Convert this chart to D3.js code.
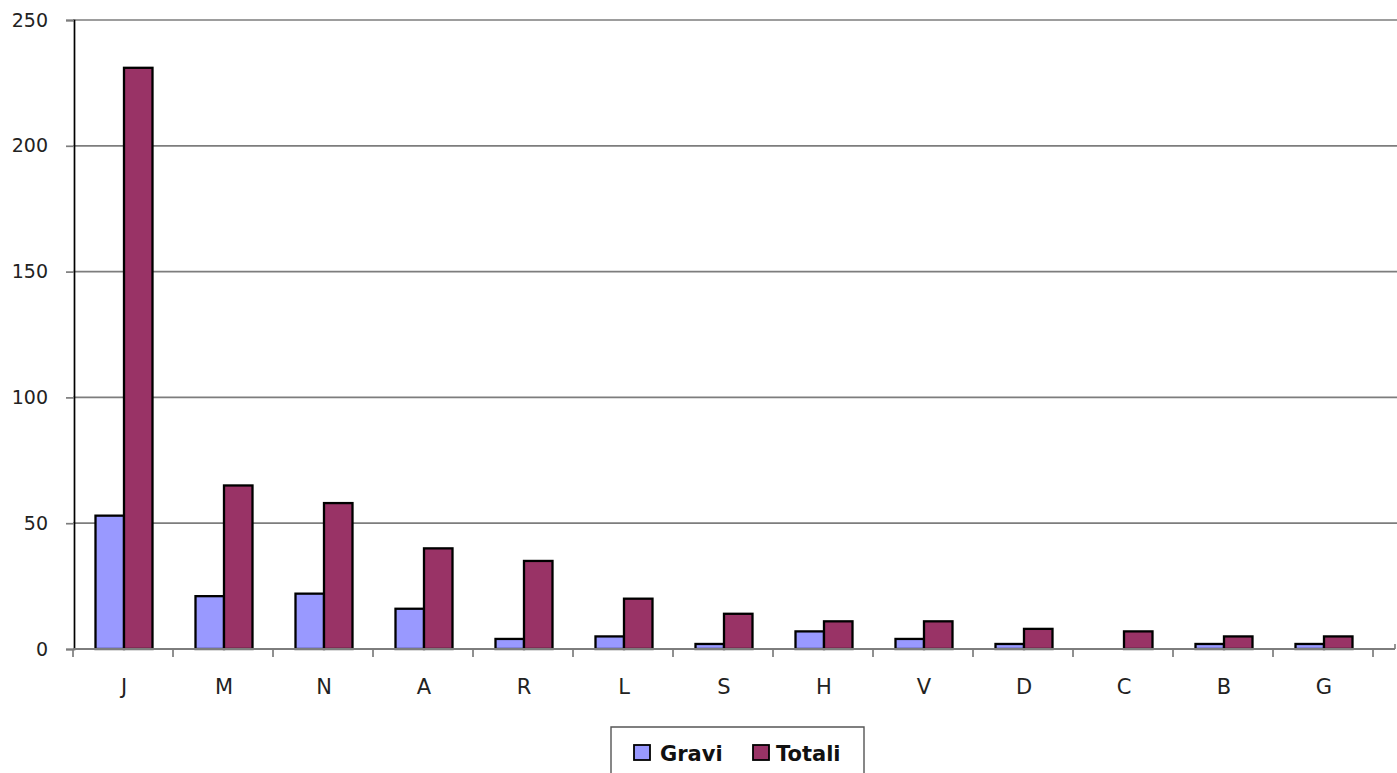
<!DOCTYPE html>
<html>
<head>
<meta charset="utf-8">
<script src="https://cdn.jsdelivr.net/npm/d3@7"></script>
<style>
  html, body { margin: 0; padding: 0; background: #fff; }
  svg { display: block; }
</style>
</head>
<body>
<svg id="chart" width="1397" height="773"></svg>
<script>
// Categories and series
const categories = ["J", "M", "N", "A", "R", "L", "S", "H", "V", "D", "C", "B", "G"];
const gravi  = [53, 21, 22, 16, 4, 5, 2, 7, 4, 2, 0, 2, 2];
const totali = [231, 65, 58, 40, 35, 20, 14, 11, 11, 8, 7, 5, 5];
const seriesNames = ["Gravi", "Totali"];
const seriesColors = ["#9999FF", "#993366"];
const yTicks = [0, 50, 100, 150, 200, 250];

const svg = d3.select("#chart");
const W = 1397;
const plot = { left: 73, right: 1373, top: 20, bottom: 649 };

const x = d3.scaleBand()
  .domain(categories)
  .range([plot.left + 1, plot.right + 1])
  .paddingInner(0.43)
  .paddingOuter(0.215);

const xs = d3.scaleBand().domain(seriesNames).range([0, x.bandwidth()]);

const y = d3.scaleLinear().domain([0, 250]).range([plot.bottom, plot.top]);

// Horizontal gridlines
svg.append("g")
  .selectAll("line")
  .data(yTicks.filter(d => d > 0))
  .join("line")
  .attr("x1", plot.left).attr("x2", W)
  .attr("y1", d => y(d)).attr("y2", d => y(d))
  .attr("stroke", "#7d7d7d").attr("stroke-width", 1.7);

// Y axis
const yAxis = d3.axisLeft(y).tickValues(yTicks).tickSize(8).tickPadding(18);
const gy = svg.append("g").attr("transform", `translate(${plot.left + 1},0)`).call(yAxis);
gy.select(".domain").attr("stroke", "#000").attr("stroke-width", 1.7);
gy.selectAll(".tick line").attr("stroke", "#7d7d7d").attr("stroke-width", 1.7);
gy.selectAll(".tick text")
  .attr("font-family", "DejaVu Sans, sans-serif")
  .attr("font-size", 19)
  .attr("fill", "#222");

// Bars
const data = categories.map((c, i) => ({ cat: c, values: [gravi[i], totali[i]] }));
const groups = svg.append("g")
  .selectAll("g")
  .data(data)
  .join("g")
  .attr("transform", d => `translate(${x(d.cat)},0)`);

groups.selectAll("rect")
  .data(d => d.values.map((v, j) => ({ name: seriesNames[j], v, j })).filter(e => e.v > 0))
  .join("rect")
  .attr("x", e => xs(e.name))
  .attr("width", xs.bandwidth())
  .attr("y", e => y(e.v))
  .attr("height", e => y(0) - y(e.v))
  .attr("fill", e => seriesColors[e.j])
  .attr("stroke", "#000")
  .attr("stroke-width", 2.3);

// X axis labels
const xAxis = d3.axisBottom(x).tickSize(0).tickPadding(30);
const gx = svg.append("g").attr("transform", `translate(0,${plot.bottom})`).call(xAxis);
gx.select(".domain").remove();
gx.selectAll(".tick text")
  .attr("font-family", "DejaVu Sans, sans-serif")
  .attr("font-size", 21)
  .attr("fill", "#222");

svg.append("line")
  .attr("x1", plot.left).attr("x2", W - 2)
  .attr("y1", plot.bottom).attr("y2", plot.bottom)
  .attr("stroke", "#7d7d7d").attr("stroke-width", 2.2);

// Category separator ticks
const step = x.step();
svg.append("g")
  .selectAll("line")
  .data(d3.range(categories.length + 1))
  .join("line")
  .attr("x1", i => plot.left + i * step).attr("x2", i => plot.left + i * step)
  .attr("y1", plot.bottom).attr("y2", plot.bottom + 8)
  .attr("stroke", "#7d7d7d").attr("stroke-width", 1.7);
svg.append("line")
  .attr("x1", W - 2).attr("x2", W - 2)
  .attr("y1", plot.bottom - 5).attr("y2", plot.bottom)
  .attr("stroke", "#7d7d7d").attr("stroke-width", 1.6);

// Legend
const legend = svg.append("g");
legend.append("path")
  .attr("d", "M611,775 L611,727 L864,727 L864,775")
  .attr("fill", "none")
  .attr("stroke", "#555")
  .attr("stroke-width", 1.4);

const legendItems = [
  { name: seriesNames[0], color: seriesColors[0], sx: 634, tx: 660 },
  { name: seriesNames[1], color: seriesColors[1], sx: 753, tx: 776 }
];
legendItems.forEach(it => {
  legend.append("rect")
    .attr("x", it.sx).attr("y", 745)
    .attr("width", 16).attr("height", 15)
    .attr("fill", it.color)
    .attr("stroke", "#000").attr("stroke-width", 1.8);
  legend.append("text")
    .attr("x", it.tx).attr("y", 761)
    .attr("font-family", "DejaVu Sans, sans-serif")
    .attr("font-weight", "bold")
    .attr("font-size", 21)
    .attr("fill", "#111")
    .text(it.name);
});
</script>
</body>
</html>
